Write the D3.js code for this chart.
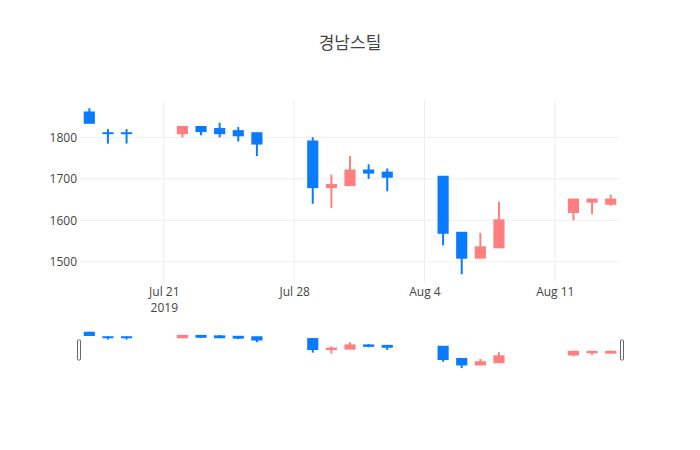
<!DOCTYPE html>
<html><head><meta charset="utf-8">
<script src="https://cdn.jsdelivr.net/npm/d3@7"></script>
<style>body{margin:0;background:#fff}svg{display:block}text{font-family:"Open Sans","Noto Sans CJK KR",sans-serif}</style>
</head><body><svg id="c" width="700" height="450"></svg>
<script>
const title = "경남스틸";
const dates = ["2019-07-17","2019-07-18","2019-07-19","2019-07-22","2019-07-23","2019-07-24","2019-07-25","2019-07-26","2019-07-29","2019-07-30","2019-07-31","2019-08-01","2019-08-02","2019-08-05","2019-08-06","2019-08-07","2019-08-08","2019-08-12","2019-08-13","2019-08-14"];
const open  = [1860,1810,1810,1810,1825,1820,1815,1810,1790,1680,1685,1720,1715,1705,1570,1510,1535,1620,1645,1640];
const high  = [1870,1820,1820,1825,1825,1835,1825,1810,1800,1710,1755,1735,1725,1705,1570,1570,1645,1650,1650,1662];
const low   = [1835,1785,1785,1800,1805,1800,1790,1755,1640,1630,1685,1700,1670,1540,1470,1510,1535,1600,1615,1635];
const close = [1835,1810,1810,1825,1815,1810,1805,1785,1680,1685,1720,1715,1705,1570,1510,1535,1600,1650,1650,1650];
const yTicks = [1500,1600,1700,1800];
const xTicks = ["2019-07-21","2019-07-28","2019-08-04","2019-08-11"];
const xTickLabels = ["Jul 21","Jul 28","Aug 4","Aug 11"];
const yearLabel = "2019";

const incColor = "#ff7f7f", decColor = "#0a7bff";
const svg = d3.select("#c");
const parse = d3.utcParse("%Y-%m-%d");
const data = dates.map((d,i)=>({date:parse(d),o:open[i],h:high[i],l:low[i],c:close[i]}));
const half = 12*3600*1000;
const L=80,R=620,T=100,B=283, ST=330, SB=370;
const x = d3.scaleUtc().domain([new Date(+data[0].date-half), new Date(+data[data.length-1].date+half)]).range([L,R]);
const yDom=[1449,1890];
const y = d3.scaleLinear().domain(yDom).range([B,T]);
const ys = d3.scaleLinear().domain(yDom).range([SB,ST]);
const dayPx = x(new Date(+data[0].date+2*half)) - x(data[0].date);
const bw = dayPx*0.6;

// grid
const g = svg.append("g");
g.selectAll("line.hg").data(yTicks).join("line").attr("x1",L).attr("x2",R)
 .attr("y1",d=>y(d)).attr("y2",d=>y(d)).attr("stroke","#eee").attr("stroke-width",1);
g.selectAll("line.vg").data(xTicks).join("line").attr("y1",T).attr("y2",B)
 .attr("x1",d=>x(parse(d))).attr("x2",d=>x(parse(d))).attr("stroke","#eee").attr("stroke-width",1);

// y axis
const ya = svg.append("g").attr("transform",`translate(${L-3},0)`)
 .call(d3.axisLeft(y).tickValues(yTicks).tickSize(0).tickPadding(0).tickFormat(d3.format("d")));
ya.select(".domain").remove();
ya.selectAll("text").attr("font-size",12).attr("fill","#444").attr("font-family","'Open Sans',sans-serif");

// x axis
const xa = svg.append("g").attr("transform",`translate(0,${B})`)
 .call(d3.axisBottom(x).tickValues(xTicks.map(parse)).tickSize(0).tickPadding(0).tickFormat((d,i)=>xTickLabels[i]));
xa.select(".domain").remove();
xa.selectAll("text").attr("font-size",12).attr("fill","#444").attr("dy",null).attr("y",13)
 .attr("font-family","'Open Sans',sans-serif");
xa.selectAll(".tick").filter((d,i)=>i===0).append("text").attr("y",29).attr("fill","#444")
 .attr("font-size",12).attr("text-anchor","middle").attr("font-family","'Open Sans',sans-serif").text(yearLabel);

function drawCandles(sel, ys_, lw){
  const cg = sel.selectAll("g.c").data(data).join("g");
  cg.append("line").attr("x1",d=>x(d.date)).attr("x2",d=>x(d.date))
    .attr("y1",d=>ys_(d.h)).attr("y2",d=>ys_(d.l))
    .attr("stroke",d=>d.c>d.o?incColor:decColor).attr("stroke-width",lw);
  cg.append("rect").attr("x",d=>x(d.date)-bw/2+1).attr("width",bw-2)
    .attr("y",d=>ys_(Math.max(d.o,d.c))).attr("height",d=>Math.max(0.001,Math.abs(ys_(d.o)-ys_(d.c))))
    .attr("fill",d=>d.c>d.o?incColor:decColor)
    .attr("stroke",d=>d.c>d.o?incColor:decColor).attr("stroke-width",lw);
}
drawCandles(svg.append("g"), y, 2);
drawCandles(svg.append("g"), ys, 2);

// range slider handles
const hh=(SB-ST)/2, hy=ST+(SB-ST)/4;
[L-2.5, R+0.5].forEach(hx=>{
  svg.append("rect").attr("x",hx).attr("y",hy).attr("width",3).attr("height",hh)
    .attr("rx",1).attr("fill","#fff").attr("stroke","#666").attr("stroke-width",1);
});

svg.append("text").attr("x",350).attr("y",49).attr("text-anchor","middle")
 .attr("font-size",17).attr("fill","#444").attr("font-family","'Noto Sans CJK KR','Open Sans',sans-serif").text(title);
</script></body></html>
